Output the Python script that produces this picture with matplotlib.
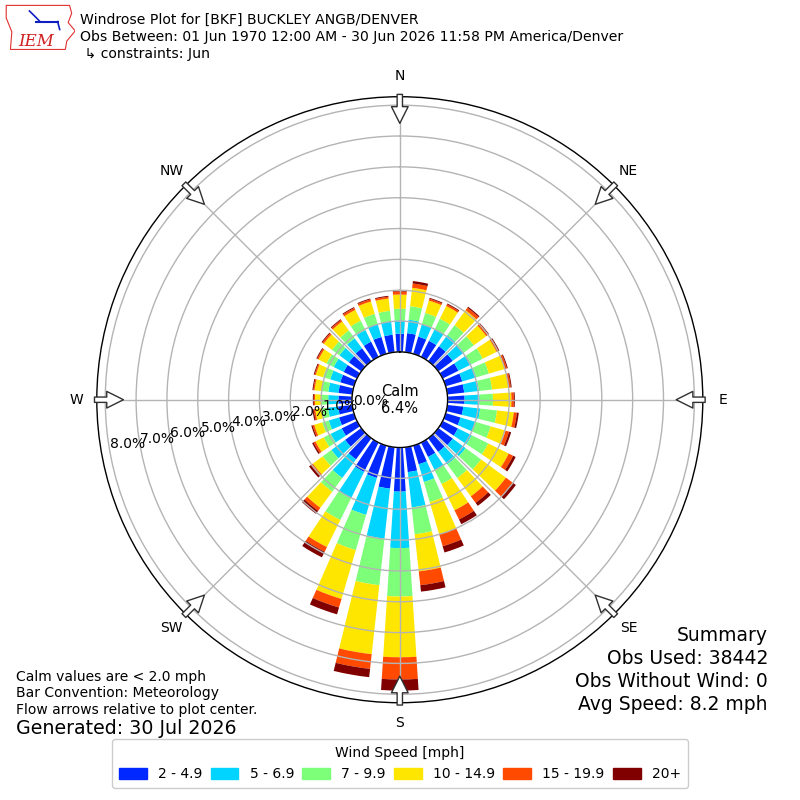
import numpy as np
import matplotlib
matplotlib.use("Agg")
import matplotlib.pyplot as plt
from matplotlib.patches import Patch, Polygon

# wind direction bins (deg, meteorological convention)
directions = np.arange(0, 360, 10)
dir_labels = ["N", "NE", "E", "SE", "S", "SW", "W", "NW"]
speed_labels = ["2 - 4.9", "5 - 6.9", "7 - 9.9", "10 - 14.9", "15 - 19.9", "20+"]
colors = ["#0028ff", "#00d4ff", "#7dff7a", "#ffe600", "#ff4a00", "#800000"]

# percent frequency per speed bin, one value per 10 deg direction (0..350)
spd_2_5 = [0.59, 0.62, 0.58, 0.58, 0.60, 0.58, 0.57, 0.56, 0.55, 0.55, 0.52, 0.50,
           0.55, 0.58, 0.55, 0.52, 0.63, 0.81, 1.43, 1.35, 1.09, 1.06, 0.85, 0.65,
           0.55, 0.50, 0.46, 0.44, 0.45, 0.46, 0.48, 0.50, 0.52, 0.55, 0.57, 0.57]
spd_5_7 = [0.43, 0.44, 0.42, 0.42, 0.45, 0.45, 0.46, 0.47, 0.48, 0.49, 0.55, 0.50,
           0.50, 0.52, 0.50, 0.48, 0.60, 1.15, 1.83, 1.63, 1.25, 0.96, 0.75, 0.55,
           0.40, 0.35, 0.33, 0.33, 0.33, 0.34, 0.36, 0.38, 0.40, 0.42, 0.43, 0.43]
spd_7_10 = [0.38, 0.44, 0.38, 0.38, 0.40, 0.40, 0.42, 0.43, 0.43, 0.43, 0.55, 0.52,
            0.60, 0.62, 0.55, 0.50, 0.68, 0.88, 1.57, 1.52, 1.19, 0.78, 0.55, 0.35,
            0.25, 0.22, 0.20, 0.21, 0.22, 0.24, 0.26, 0.30, 0.32, 0.34, 0.35, 0.35]
spd_10_15 = [0.46, 0.60, 0.42, 0.46, 0.60, 0.50, 0.50, 0.53, 0.53, 0.60, 0.55, 0.50,
             0.74, 1.00, 0.74, 0.95, 1.09, 1.21, 1.97, 2.25, 1.65, 0.98, 0.65, 0.40,
             0.30, 0.27, 0.22, 0.22, 0.23, 0.25, 0.29, 0.33, 0.36, 0.39, 0.42, 0.40]
spd_15_20 = [0.10, 0.14, 0.06, 0.06, 0.10, 0.08, 0.07, 0.08, 0.08, 0.08, 0.10, 0.12,
             0.16, 0.28, 0.26, 0.33, 0.40, 0.45, 0.72, 0.48, 0.29, 0.17, 0.12, 0.08,
             0.07, 0.06, 0.05, 0.04, 0.04, 0.04, 0.05, 0.06, 0.06, 0.07, 0.07, 0.06]
spd_20 = [0.03, 0.08, 0.03, 0.03, 0.04, 0.03, 0.03, 0.03, 0.03, 0.03, 0.06, 0.07,
          0.09, 0.12, 0.12, 0.17, 0.21, 0.21, 0.36, 0.27, 0.23, 0.20, 0.12, 0.07,
          0.05, 0.04, 0.04, 0.03, 0.03, 0.03, 0.03, 0.03, 0.03, 0.03, 0.03, 0.03]

calm_pct = 6.4
rings = [0, 1, 2, 3, 4, 5, 6, 7, 8]

bins = [spd_2_5, spd_5_7, spd_7_10, spd_10_15, spd_15_20, spd_20]
theta = np.deg2rad(directions)
totals = np.sum(bins, axis=0)
rmax = totals.max() * 1.05

fig = plt.figure(figsize=(8, 8), dpi=100)
ax = fig.add_axes([0.121, 0.1216, 0.7575, 0.7575], projection="polar")
ax.set_theta_zero_location("N")
ax.set_theta_direction(-1)
ax.set_rorigin(-1.55)
ax.set_ylim(0, rmax)

bottom = np.zeros(len(directions))
for vals, col, lab in zip(bins, colors, speed_labels):
    ax.bar(theta, vals, width=np.deg2rad(7.4), bottom=bottom, color=col,
           edgecolor="none", label=lab, zorder=1)
    bottom = bottom + np.array(vals)

# grid
ax.set_yticks(rings)
ax.set_yticklabels([f"{r:.1f}%" for r in rings], fontsize=10)
ax.set_rlabel_position(260)
ax.set_xticks(np.deg2rad(np.arange(0, 360, 45)))
ax.set_xticklabels([])
ax.grid(True, color="#b4b4b4", lw=1)
ax.spines["polar"].set_linewidth(1)
ax.spines["inner"].set_color("black")
ax.spines["inner"].set_linewidth(1)

ax.text(0, -1.55, f"Calm\n{calm_pct}%", ha="center", va="center", fontsize=10.5)

# direction labels and flow arrows
r_lab = (324 - 48) / 30.9
r_out = (306 - 48) / 30.9
r_in = (277 - 48) / 30.9
for ang, lab in zip(np.arange(0, 360, 45), dir_labels):
    t = np.deg2rad(ang)
    ax.text(t, r_lab, lab, ha="center", va="center", fontsize=10, clip_on=False)
    ax.annotate("", xy=(t, r_in), xytext=(t, r_out), annotation_clip=False,
                arrowprops=dict(arrowstyle="simple,head_length=1.0,head_width=1.0,tail_width=0.32",
                                fc="white", ec="#303030", lw=1, shrinkA=0, shrinkB=0,
                                mutation_scale=12),
                zorder=6)

# header
fig.text(0.1, 0.975, "Windrose Plot for [BKF] BUCKLEY ANGB/DENVER", fontsize=10.1, va="center")
fig.text(0.1, 0.954, "Obs Between: 01 Jun 1970 12:00 AM - 30 Jun 2026 11:58 PM America/Denver",
         fontsize=10.1, va="center")
fig.text(0.1, 0.9325, " \u21b3 constraints: Jun", fontsize=10.1, va="center")

# IEM logo (rough)
lax = fig.add_axes([0.006, 0.937, 0.088, 0.058])
lax.set_xlim(0, 1)
lax.set_ylim(0, 1)
lax.axis("off")
lax.add_patch(Polygon([(0.02, 0.97), (0.92, 0.97), (0.95, 0.8), (0.9, 0.6), (1.0, 0.42),
                       (0.88, 0.2), (0.86, 0.02), (0.08, 0.02), (0.1, 0.4), (0.02, 0.7)],
                      closed=True, fill=False, ec="#e03030", lw=0.8))
lax.plot([0.45, 0.75], [0.62, 0.62], color="#1020c0", lw=1.5)
lax.plot([0.35, 0.45, 0.5], [0.85, 0.7, 0.62], color="#1020c0", lw=1.2)
lax.plot([0.75, 0.78], [0.62, 0.45], color="#1020c0", lw=1.2)
lax.text(0.45, 0.2, "IEM", color="#d02020", fontsize=12, style="italic",
         family="DejaVu Serif", ha="center", va="center")

# notes
fig.text(0.02, 0.154, "Calm values are < 2.0 mph", fontsize=10, va="center")
fig.text(0.02, 0.134, "Bar Convention: Meteorology", fontsize=10, va="center")
fig.text(0.02, 0.1125, "Flow arrows relative to plot center.", fontsize=10, va="center")
fig.text(0.02, 0.089, "Generated: 30 Jul 2026", fontsize=13.7, va="center")

summary = ["Summary", "Obs Used: 38442", "Obs Without Wind: 0", "Avg Speed: 8.2 mph"]
for i, s in enumerate(summary):
    fig.text(0.96, 0.206 - i * 0.029, s, fontsize=13.5, ha="right", va="center")

handles = [Patch(color=c, label=l) for c, l in zip(colors, speed_labels)]
fig.legend(handles=handles, loc="lower center", bbox_to_anchor=(0.5, 0.006), ncol=6,
           title="Wind Speed [mph]", fontsize=10, title_fontsize=10,
           handlelength=2.0, handleheight=0.75, columnspacing=0.6, framealpha=1,
           borderpad=0.5)

fig.savefig("out.png", dpi=100)
